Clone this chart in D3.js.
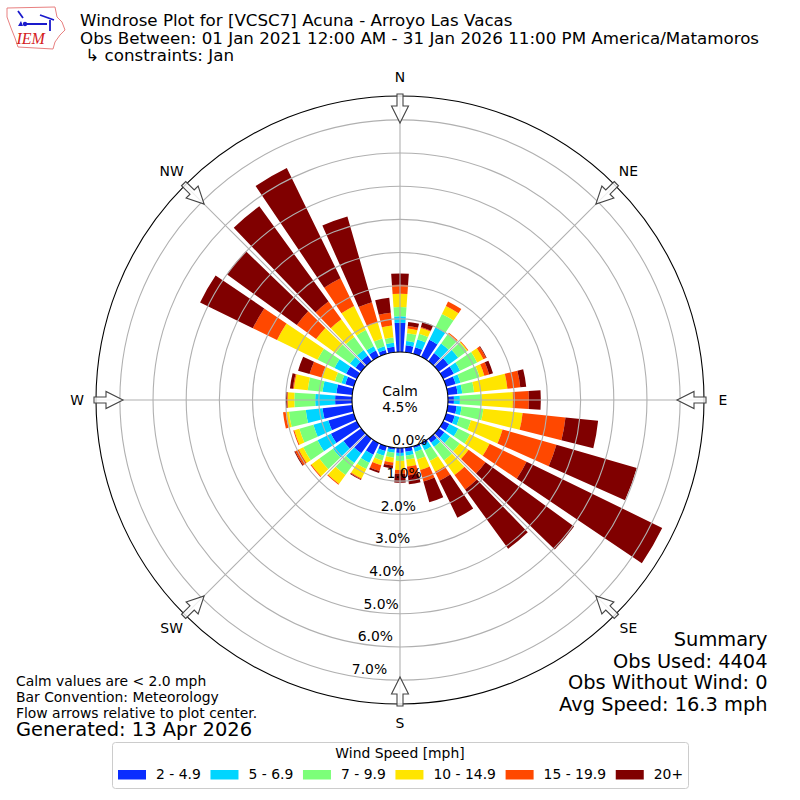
<!DOCTYPE html>
<html>
<head>
<meta charset="utf-8">
<script src="https://d3js.org/d3.v7.min.js"></script>
<style>
  html, body { margin: 0; background: #fff; }
  svg { display: block; }
  text { font-family: "DejaVu Sans", sans-serif; fill: #000; }
</style>
</head>
<body>
<div id="chart"></div>
<script>
// Direction of each bar, degrees from north
const directions = [0, 10, 20, 30, 40, 50, 60, 70, 80, 90, 100, 110, 120, 130, 140, 150, 160, 170,
                    180, 190, 200, 210, 220, 230, 240, 250, 260, 270, 280, 290, 300, 310, 320, 330, 340, 350];

// Percent of observations per speed bin, one value per direction
const speed2to5 = [.88, .21, .21, .57, .30, .36, .36, .30, .30, .18, .27, .27, .21, .21, .15, .06, .06, .12,
                   .15, .06, .15, .39, .54, .66, .87, .80, .90, .51, .48, .27, .36, .21, .21, .21, .12, .17];
const speed5to7 = [.20, .13, .24, .42, .36, .36, .21, .15, .14, .18, .15, .15, .30, .21, .15, .18, .12, .12,
                   .09, .09, .15, .27, .36, .39, .45, .47, .51, .60, .42, .12, .39, .21, .21, .15, .12, .12];
const speed7to10 = [.28, .24, .18, .45, .35, .33, .57, .60, .36, .66, .66, .36, .39, .36, .51, .36, .24, .12,
                    .15, .15, .15, .21, .45, .51, .48, .44, .51, .63, .45, .21, .57, .54, .48, .54, .24, .16];
const speed10to15 = [.40, .14, .18, .27, .02, .03, .21, .15, 1.01, .94, 1.19, .99, .66, .33, .54, .36, .33, .21,
                     .27, .15, .15, .32, .33, .30, .15, .16, .10, .20, .42, .41, 1.36, .72, .66, .81, .51, .36];
const speed15to20 = [.27, .08, .03, .15, .03, .02, .09, .15, .39, .48, 1.30, 1.69, 1.24, .63, .54, .30, .36, .27,
                     .12, .09, .18, .03, .03, .03, .12, .03, .08, .02, .03, .38, .81, .72, .66, .93, .63, .39];
const speed20up = [.34, .12, .17, 0, 0, 0, .02, .12, .18, .36, .99, 2.52, 4.55, 3.30, 2.21, 1.24, .65, .27,
                   .27, .09, .06, .02, 0, 0, .03, 0, 0, .03, .09, .36, 1.77, 2.61, 3.55, 3.70, 2.69, .45];

const speedKeys = ["2 - 4.9", "5 - 6.9", "7 - 9.9", "10 - 14.9", "15 - 19.9", "20+"];
const speedSeries = [speed2to5, speed5to7, speed7to10, speed10to15, speed15to20, speed20up];
const speedColors = ["#0a2dff", "#00d5ff", "#7cff79", "#ffe500", "#ff4800", "#800000"];

const compass = [["N", 0], ["NE", 45], ["E", 90], ["SE", 135], ["S", 180], ["SW", 225], ["W", 270], ["NW", 315]];
const ringTicks = [0, 1, 2, 3, 4, 5, 6, 7];

const titleLines = [
  "Windrose Plot for [VCSC7] Acuna - Arroyo Las Vacas",
  "Obs Between: 01 Jan 2021 12:00 AM - 31 Jan 2026 11:00 PM America/Matamoros",
  " ↳ constraints: Jan"
];
const noteLines = ["Calm values are < 2.0 mph", "Bar Convention: Meteorology", "Flow arrows relative to plot center."];
const summaryLines = ["Summary", "Obs Used: 4404", "Obs Without Wind: 0", "Avg Speed: 16.3 mph"];

const W = 800, H = 800;
const cx = 400, cy = 400;

const svg = d3.select("#chart").append("svg")
    .attr("width", W)
    .attr("height", H);

const plot = svg.append("g").attr("transform", `translate(${cx},${cy})`);

// radius: 0% sits on the calm circle, frame is at 7.72%
const r = d3.scaleLinear().domain([0, 7.72]).range([48, 304]);
const barWidth = 8 * Math.PI / 180;
const toRad = d3.scaleLinear().domain([0, 360]).range([0, 2 * Math.PI]);

// Stack the speed bins for every direction
const rows = directions.map((dir, i) => {
  const row = { dir };
  speedKeys.forEach((k, s) => { row[k] = speedSeries[s][i]; });
  return row;
});
const stacked = d3.stack().keys(speedKeys)(rows);

const arc = d3.arc();

plot.append("g")
  .selectAll("g")
  .data(stacked)
  .join("g")
    .attr("fill", (d, i) => speedColors[i])
  .selectAll("path")
  .data(d => d.filter(v => v[1] > v[0]))
  .join("path")
    .attr("d", v => arc({
      innerRadius: r(v[0]),
      outerRadius: r(v[1]),
      startAngle: toRad(v.data.dir) - barWidth / 2,
      endAngle: toRad(v.data.dir) + barWidth / 2
    }));

// Grid on top of the bars
plot.append("g")
  .selectAll("circle")
  .data(ringTicks.slice(1))
  .join("circle")
    .attr("r", d => r(d))
    .attr("fill", "none")
    .attr("stroke", "#b0b0b0")
    .attr("stroke-width", 1.1);

plot.append("g")
  .selectAll("line")
  .data(compass)
  .join("line")
    .attr("transform", d => `rotate(${d[1]})`)
    .attr("y1", -r(0))
    .attr("y2", -r.range()[1])
    .attr("stroke", "#b0b0b0")
    .attr("stroke-width", 1.1);

// Frame and calm circle
plot.append("circle")
    .attr("r", r.range()[1])
    .attr("fill", "none")
    .attr("stroke", "#000")
    .attr("stroke-width", 1.1);
plot.append("circle")
    .attr("r", r(0))
    .attr("fill", "#fff")
    .attr("stroke", "#000")
    .attr("stroke-width", 1.1);

// Flow arrows pointing at the centre
const tail = -r.range()[1] - 2, headBase = -r.range()[1] + 10, tip = -r.range()[1] + 27;
const arrowPath = d3.line()([
  [-3, tail], [3, tail], [3, headBase], [8.5, headBase], [0, tip], [-8.5, headBase], [-3, headBase]
]) + "Z";

plot.append("g")
  .selectAll("path")
  .data(compass)
  .join("path")
    .attr("transform", d => `rotate(${d[1]})`)
    .attr("d", arrowPath)
    .attr("fill", "#fff")
    .attr("fill-opacity", 0.8)
    .attr("stroke", "#444")
    .attr("stroke-width", 1.1);

// Compass labels
plot.append("g")
  .selectAll("text")
  .data(compass)
  .join("text")
    .attr("x", d => 323 * Math.sin(toRad(d[1])))
    .attr("y", d => -323 * Math.cos(toRad(d[1])))
    .attr("dy", "0.35em")
    .attr("text-anchor", "middle")
    .attr("font-size", "13.9px")
    .text(d => d[0]);

// Percent labels run along 190 degrees
plot.append("g")
  .selectAll("text")
  .data(ringTicks)
  .join("text")
    .attr("x", d => r(d) * Math.sin(toRad(190)) + 0.5)
    .attr("y", d => -r(d) * Math.cos(toRad(190)) - 2)
    .attr("font-size", "13.9px")
    .text(d => d.toFixed(1) + "%");

plot.append("text")
    .attr("y", -4)
    .attr("text-anchor", "middle")
    .attr("font-size", "13.9px")
    .text("Calm");
plot.append("text")
    .attr("y", 12)
    .attr("text-anchor", "middle")
    .attr("font-size", "13.9px")
    .text("4.5%");

// Title
svg.append("g")
  .selectAll("text")
  .data(titleLines)
  .join("text")
    .attr("x", 80)
    .attr("y", (d, i) => 26 + i * 17.7)
    .attr("font-size", "16.7px")
    .attr("xml:space", "preserve")
    .style("white-space", "pre")
    .text(d => d);

// Notes, bottom left
svg.append("g")
  .selectAll("text")
  .data(noteLines)
  .join("text")
    .attr("x", 16)
    .attr("y", (d, i) => 686 + i * 15.8)
    .attr("font-size", "13.9px")
    .text(d => d);
svg.append("text")
    .attr("x", 16)
    .attr("y", 736)
    .attr("font-size", "19.45px")
    .text("Generated: 13 Apr 2026");

// Summary, bottom right
svg.append("g")
  .selectAll("text")
  .data(summaryLines)
  .join("text")
    .attr("x", 767.5)
    .attr("y", (d, i) => 646 + i * 21.7)
    .attr("text-anchor", "end")
    .attr("font-size", "19.4px")
    .text(d => d);

// Legend
const legend = svg.append("g");
legend.append("rect")
    .attr("x", 112.5).attr("y", 742.5)
    .attr("width", 576).attr("height", 46)
    .attr("rx", 3)
    .attr("fill", "#fff")
    .attr("stroke", "#ccc");
legend.append("text")
    .attr("x", 400).attr("y", 758)
    .attr("text-anchor", "middle")
    .attr("font-size", "13.9px")
    .text("Wind Speed [mph]");

let legendX = 118;
speedKeys.forEach((k, i) => {
  legend.append("rect")
      .attr("x", legendX).attr("y", 770)
      .attr("width", 28).attr("height", 9.5)
      .attr("fill", speedColors[i]);
  const t = legend.append("text")
      .attr("x", legendX + 38).attr("y", 779)
      .attr("font-size", "13.9px")
      .text(k);
  legendX += 38 + t.node().getComputedTextLength() + 9.7;
});

// IEM logo
const logo = svg.append("g");
logo.append("path")
    .attr("d", d3.line().curve(d3.curveLinearClosed)([
      [7, 8], [55, 7], [57, 17], [62, 22], [65, 30], [60, 35], [55, 42], [53, 49], [18, 47], [15, 38], [11, 28], [7, 17]
    ]))
    .attr("fill", "#fff")
    .attr("stroke", "#e88080")
    .attr("stroke-width", 1);
logo.append("path")
    .attr("d", "M24 24H47M18 11L23 18M40 15L54 20M50 20V31")
    .attr("fill", "none")
    .attr("stroke", "#1a1acc")
    .attr("stroke-width", 1.8);
logo.append("circle")
    .attr("cx", 25).attr("cy", 24).attr("r", 2.2)
    .attr("fill", "#1a1acc");
logo.append("path")
    .attr("d", "M18 26L21 21L23 26Z")
    .attr("fill", "#1a1acc");
logo.append("text")
    .attr("x", 16.5).attr("y", 44)
    .style("font-family", "'Liberation Serif', serif")
    .style("fill", "#d42020")
    .attr("font-style", "italic")
    .attr("font-size", "16px")
    .text("IEM");
</script>
</body>
</html>
